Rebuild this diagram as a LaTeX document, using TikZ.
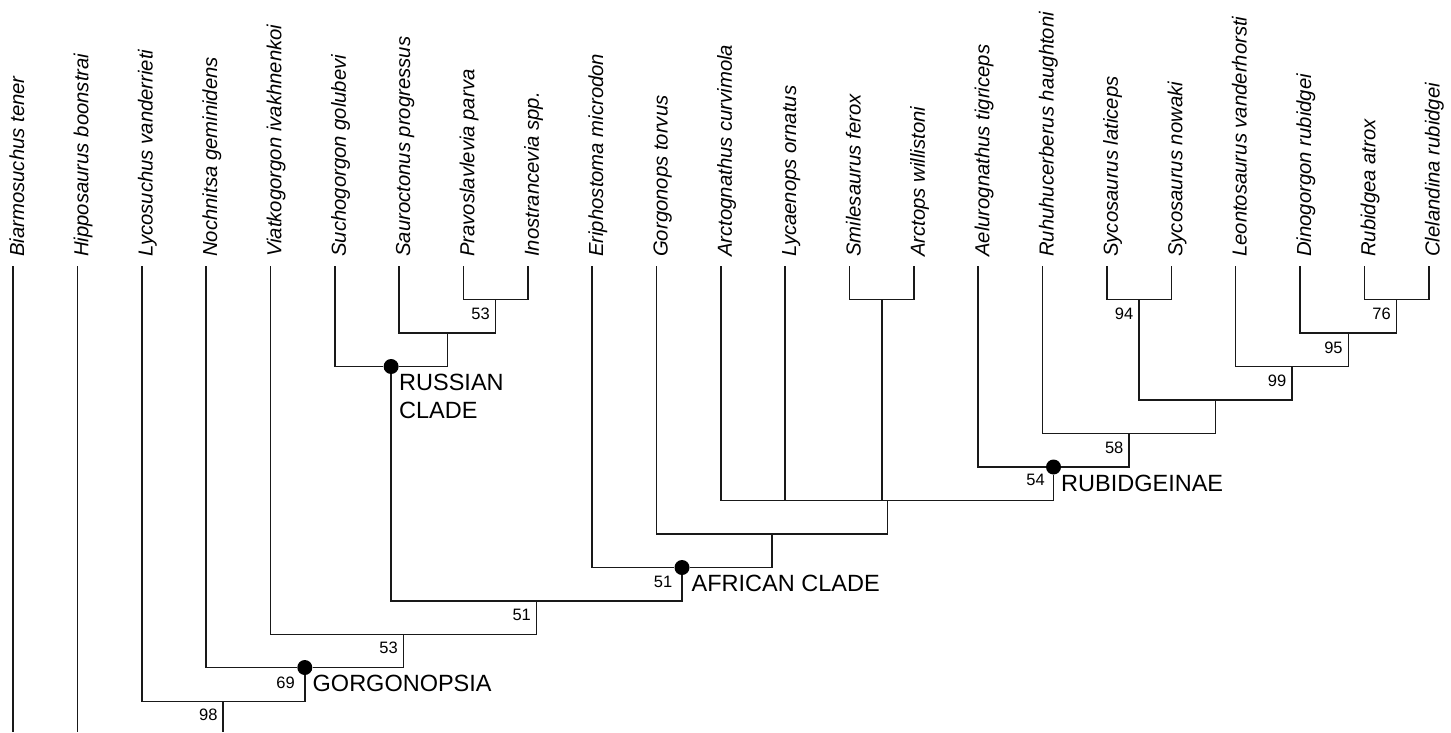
\documentclass[tikz,border=0pt]{standalone}
\usepackage{fontspec}
\setmainfont{Liberation Sans}
\begin{document}
\begin{tikzpicture}[
  x=1pt, y=-1pt,
  br/.style={line width=1.6pt, color=black!90},
  taxon/.style={rotate=90, anchor=base west, inner sep=0pt, font=\fontsize{20.3}{24}\selectfont\itshape},
  bs/.style={anchor=base east, inner sep=0pt, font=\fontsize{16.5}{20}\selectfont},
  clade/.style={anchor=north west, inner sep=0pt, align=left, font=\fontsize{23.5}{28.3}\selectfont},
  dot/.style={circle, fill=black, inner sep=0pt, minimum size=15pt}
]
\useasboundingbox (0,0) rectangle (1451,732);

% taxa
\node[taxon] (tbiar) at (24,257) {Biarmosuchus tener};
\node[taxon] (thipp) at (88.35,257) {Hipposaurus boonstrai};
\node[taxon] (tlyco) at (152.7,257) {Lycosuchus vanderrieti};
\node[taxon] (tnoch) at (217.05,257) {Nochnitsa geminidens};
\node[taxon] (tviat) at (281.4,257) {Viatkogorgon ivakhnenkoi};
\node[taxon] (tsuch) at (345.75,257) {Suchogorgon golubevi};
\node[taxon] (tsaur) at (410.1,257) {Sauroctonus progressus};
\node[taxon] (tprav) at (474.45,257) {Pravoslavlevia parva};
\node[taxon] (tinos) at (538.8,257) {Inostrancevia spp.};
\node[taxon] (terip) at (603.15,257) {Eriphostoma microdon};
\node[taxon] (tgorg) at (667.5,257) {Gorgonops torvus};
\node[taxon] (tarcg) at (731.85,257) {Arctognathus curvimola};
\node[taxon] (tlyca) at (796.2,257) {Lycaenops ornatus};
\node[taxon] (tsmil) at (860.55,257) {Smilesaurus ferox};
\node[taxon] (tarcs) at (924.9,257) {Arctops willistoni};
\node[taxon] (taelu) at (989.25,257) {Aelurognathus tigriceps};
\node[taxon] (truhu) at (1053.6,257) {Ruhuhucerberus haughtoni};
\node[taxon] (tsyla) at (1117.95,257) {Sycosaurus laticeps};
\node[taxon] (tsyno) at (1182.3,257) {Sycosaurus nowaki};
\node[taxon] (tleon) at (1246.65,257) {Leontosaurus vanderhorsti};
\node[taxon] (tdino) at (1311,257) {Dinogorgon rubidgei};
\node[taxon] (trubi) at (1375.35,257) {Rubidgea atrox};
\node[taxon] (tclel) at (1439.7,257) {Clelandina rubidgei};

% branch tips
\coordinate (biar) at (13,266);
\coordinate (hipp) at (77.35,266);
\coordinate (lyco) at (141.7,266);
\coordinate (noch) at (206.05,266);
\coordinate (viat) at (270.4,266);
\coordinate (such) at (334.75,266);
\coordinate (saur) at (399.1,266);
\coordinate (prav) at (463.45,266);
\coordinate (inos) at (527.8,266);
\coordinate (erip) at (592.15,266);
\coordinate (gorg) at (656.5,266);
\coordinate (arcg) at (720.85,266);
\coordinate (lyca) at (785.2,266);
\coordinate (smil) at (849.55,266);
\coordinate (arcs) at (913.9,266);
\coordinate (aelu) at (978.25,266);
\coordinate (ruhu) at (1042.6,266);
\coordinate (syla) at (1106.95,266);
\coordinate (syno) at (1171.3,266);
\coordinate (leon) at (1235.65,266);
\coordinate (dino) at (1300,266);
\coordinate (rubi) at (1364.35,266);
\coordinate (clel) at (1428.7,266);
\coordinate (bot) at (0,732);

% internal nodes
\coordinate (pi) at (495.6,299.5);
\coordinate (sa) at (447.4,333);
\node[dot] (ru) at (391.1,366.5) {};
\coordinate (sm) at (881.7,299.5);
\coordinate (sy) at (1139.1,299.5);
\coordinate (rc) at (1396.5,299.5);
\coordinate (di) at (1348.3,333);
\coordinate (le) at (1292,366.5);
\coordinate (sl) at (1215.5,400);
\coordinate (rh) at (1129.1,433.5);
\node[dot] (rb) at (1053.5,467) {};
\coordinate (po) at (887.3,500.5);
\coordinate (gt) at (771.9,534);
\node[dot] (af) at (682,567.5) {};
\coordinate (ra) at (536.6,601);
\coordinate (vi) at (403.5,634.5);
\node[dot] (gp) at (304.8,667.5) {};
\coordinate (rt) at (223.2,701.5);

\draw[br] (prav) |- (pi) -| (inos);
\draw[br] (saur) |- (sa) -| (pi);
\draw[br] (such) |- (ru) -| (sa);
\draw[br] (smil) |- (sm) -| (arcs);
\draw[br] (syla) |- (sy) -| (syno);
\draw[br] (rubi) |- (rc) -| (clel);
\draw[br] (dino) |- (di) -| (rc);
\draw[br] (leon) |- (le) -| (di);
\draw[br] (sy) |- (sl) -| (le);
\draw[br] (ruhu) |- (rh) -| (sl);
\draw[br] (aelu) |- (rb) -| (rh);
\draw[br] (arcg) |- (po) -| (rb);
\draw[br] (lyca) -- (lyca |- po);
\draw[br] (sm) -- (sm |- po);
\draw[br] (gorg) |- (gt) -| (po);
\draw[br] (erip) |- (af) -| (gt);
\draw[br] (ru) |- (ra) -| (af);
\draw[br] (viat) |- (vi) -| (ra);
\draw[br] (noch) |- (gp) -| (vi);
\draw[br] (lyco) |- (rt) -| (gp);
\draw[br] (rt) -- (rt |- bot);
\draw[br] (biar) -- (biar |- bot);
\draw[br] (hipp) -- (hipp |- bot);

% support values
\node[bs] (b1) at (490,319.5) {53};
\node[bs] (b2) at (1133.4,319.5) {94};
\node[bs] (b3) at (1391,319.5) {76};
\node[bs] (b4) at (1342.8,353) {95};
\node[bs] (b5) at (1286.5,386.5) {99};
\node[bs] (b6) at (1123.6,453) {58};
\node[bs] (b7) at (1045,485.5) {54};
\node[bs] (b8) at (672.5,587) {51};
\node[bs] (b9) at (531.1,620.5) {51};
\node[bs] (b10) at (398,653) {53};
\node[bs] (b11) at (295,688.5) {69};
\node[bs] (b12) at (217.7,720.5) {98};

% clade names
\node[clade] (lru) at (399,373.5) {RUSSIAN\\CLADE};
\node[clade] (lrb) at (1061,475) {RUBIDGEINAE};
\node[clade] (laf) at (691.5,574.5) {AFRICAN CLADE};
\node[clade] (lgp) at (312.5,675) {GORGONOPSIA};
\end{tikzpicture}
\end{document}
